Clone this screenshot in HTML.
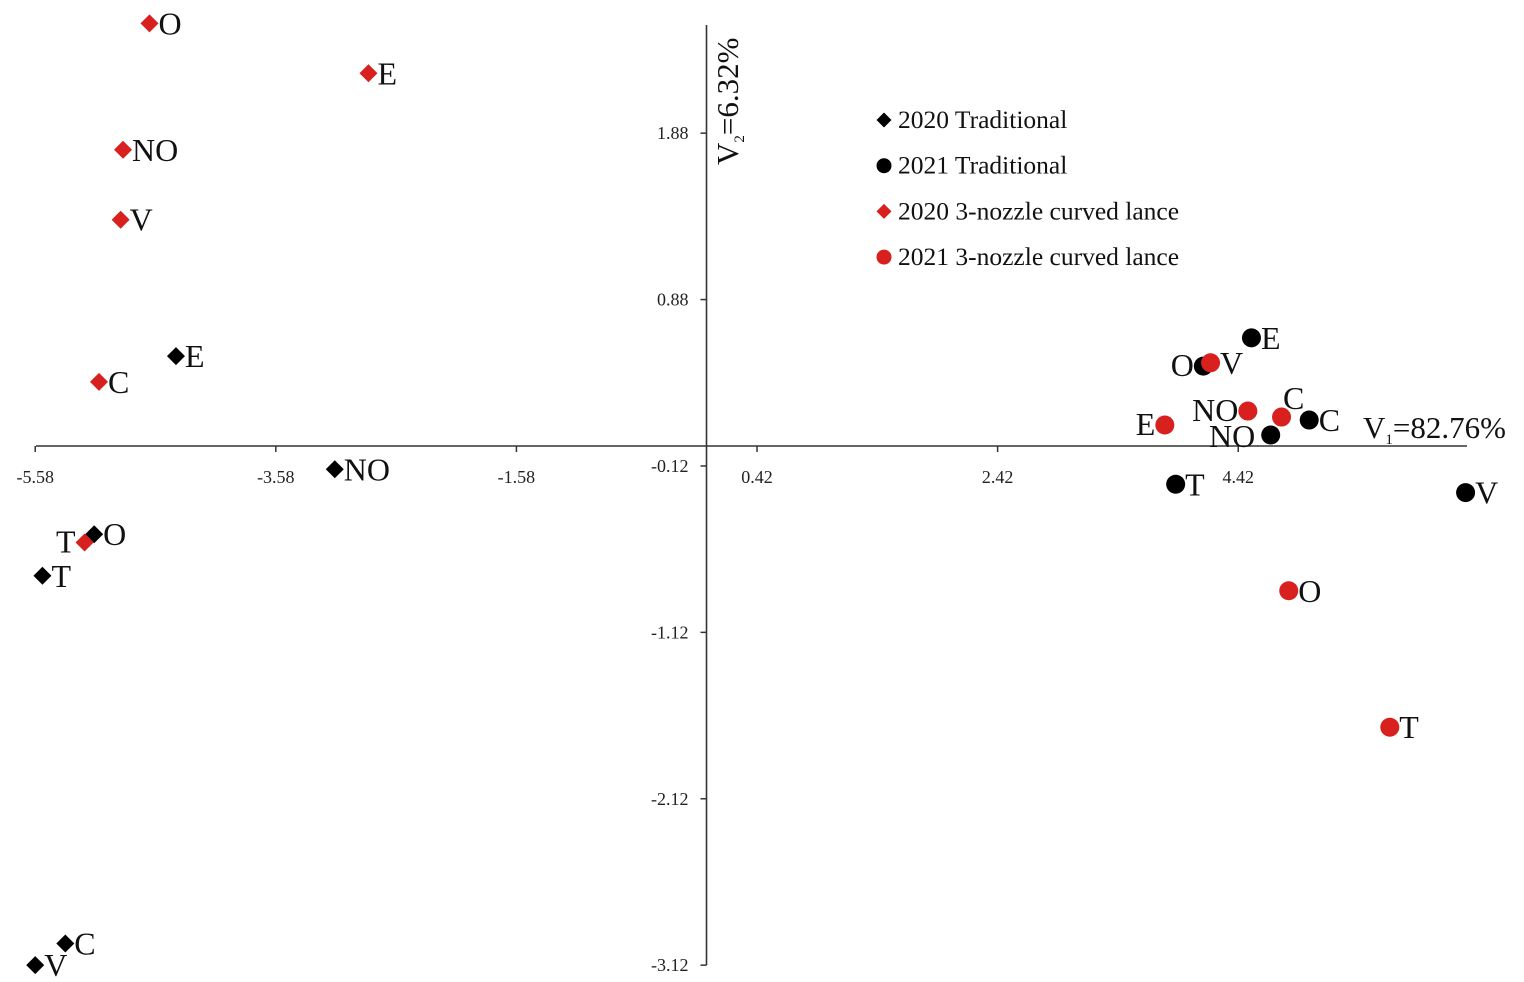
<!DOCTYPE html>
<html><head><meta charset="utf-8"><style>
html,body{margin:0;padding:0;background:#fff;width:1524px;height:982px;overflow:hidden}
svg{display:block;font-family:"Liberation Serif",serif}
</style></head><body>
<svg id="chart" width="1524" height="982" viewBox="0 0 1524 982" xmlns="http://www.w3.org/2000/svg"></svg>
<script>
const xTicks=[-5.58,-3.58,-1.58,0.42,2.42,4.42];
const yTicks=[1.88,0.88,-0.12,-1.12,-2.12,-3.12];
const labels=["E","NO","O","T","C","V"];
const t20x=[-4.41,-3.09,-5.09,-5.52,-5.33,-5.58];
const t20y=[0.54,-0.14,-0.53,-0.78,-2.99,-3.12];
const t21labels=["E","O","NO","C","T","V"];
const t21x=[4.53,4.13,4.69,5.01,3.90,6.31];
const t21y=[0.65,0.48,0.066,0.156,-0.23,-0.28];
const n20labels=["O","E","NO","V","C","T"];
const n20x=[-4.63,-2.81,-4.85,-4.87,-5.05,-5.17];
const n20y=[2.54,2.24,1.78,1.36,0.385,-0.58];
const n21labels=["V","NO","C","E","O","T"];
const n21x=[4.19,4.50,4.78,3.81,4.84,5.68];
const n21y=[0.50,0.21,0.174,0.126,-0.87,-1.69];
const legendNames=["2020 Traditional","2021 Traditional","2020 3-nozzle curved lance","2021 3-nozzle curved lance"];

const svg=document.getElementById('chart');
const NS='http://www.w3.org/2000/svg';
const X=v=>706.5+120.3*v;
const Y=v=>446-166.4*v;
function el(tag,attrs,parent){const e=document.createElementNS(NS,tag);for(const k in attrs)e.setAttribute(k,attrs[k]);(parent||svg).appendChild(e);return e;}

let a=el('line',{x1:36,y1:Y(0),x2:1467,y2:Y(0),stroke:'#333','stroke-width':1.6});


a=el('line',{x1:X(0),y1:25,x2:X(0),y2:Y(-3.12),stroke:'#333','stroke-width':1.6});



xTicks.forEach(v=>{
  const t=el('line',{x1:X(v),y1:Y(0),x2:X(v),y2:Y(0)+6,stroke:'#333','stroke-width':1.5});
  
  
  const l=el('text',{x:X(v),y:483,'font-size':18,'text-anchor':'middle',fill:'#222'});
  l.textContent=v.toFixed(2);
  
  
});
yTicks.forEach(v=>{
  const t=el('line',{x1:X(0)-6,y1:Y(v),x2:X(0),y2:Y(v),stroke:'#333','stroke-width':1.5});
  
  
  const l=el('text',{x:X(0)-18,y:Y(v)+6,'font-size':18,'text-anchor':'end',fill:'#222'});
  l.textContent=v.toFixed(2);
  
  
});

let tt=el('text',{x:1363,y:438,'font-size':31,fill:'#111'});
tt.innerHTML='V<tspan font-size="15" dy="6">1</tspan><tspan dy="-6">=82.76%</tspan>';


tt=el('text',{x:0,y:0,'font-size':31,fill:'#111',transform:'translate(738,165) rotate(-90)'});
tt.innerHTML='V<tspan font-size="15" dy="6">2</tspan><tspan dy="-6">=6.32%</tspan>';



function mark(shape,color,x,y,r,parent){
  if(shape==='d') return el('polygon',{points:`${x},${y-r} ${x+r},${y} ${x},${y+r} ${x-r},${y}`,fill:color},parent);
  return el('circle',{cx:x,cy:y,r:r,fill:color},parent);
}
const off={
 t20:{},
 t21:{O:[0,10,'end'],NO:[-6,12,'end']},
 n20:{T:[0,10,'end']},
 n21:{E:[0,10,'end'],NO:[0,10,'end'],C:[-8,-8,'start']}
};
function series(key,name,shape,color,xs,ys,labs,r){
  const g=el('g',{});
  
  
  xs.forEach((xv,i)=>{
    const px=X(xv),py=Y(ys[i]);
    const m=mark(shape,color,px,py,r,g);
    
    
    const o=off[key][labs[i]]||[0,11,'start'];
    const lx=o[2]==='end'?px-r+o[0]:px+r+o[0];
    const t=el('text',{x:lx,y:py+o[1],'font-size':32,'text-anchor':o[2],fill:'#111'},g);
    t.textContent=labs[i];
    
    
  });
}
series('t20','series-2020-traditional','d','#000',t20x,t20y,labels,9);
series('n20','series-2020-3-nozzle','d','#d8201e',n20x,n20y,n20labels,9);
series('t21','series-2021-traditional','c','#000',t21x,t21y,t21labels,9.5);
series('n21','series-2021-3-nozzle','c','#d8201e',n21x,n21y,n21labels,9.5);

const lg=el('g',{});


const ls=[['d','#000'],['c','#000'],['d','#d8201e'],['c','#d8201e']];
legendNames.forEach((n,i)=>{
  const y=120+i*45.7;
  const m=mark(ls[i][0],ls[i][1],884,y,7.5,lg);
  
  
  const t=el('text',{x:898,y:y+8,'font-size':25.5,fill:'#111'},lg);
  t.textContent=n;
  
  
});
</script>
</body></html>
